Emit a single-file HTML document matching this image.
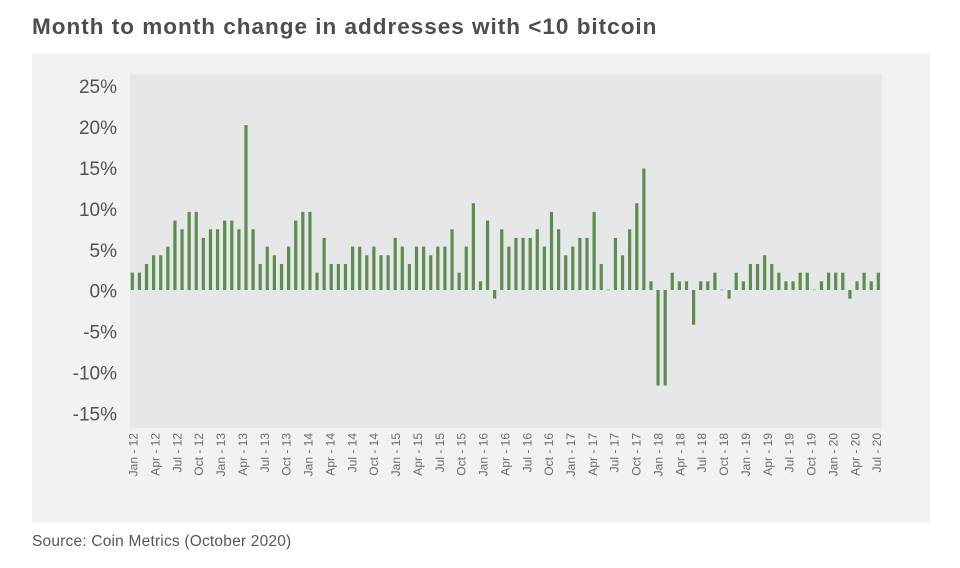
<!DOCTYPE html>
<html><head><meta charset="utf-8"><style>
html,body{margin:0;padding:0;background:#fff;}
body{width:960px;height:568px;overflow:hidden;position:relative;font-family:"Liberation Sans",sans-serif;}
svg{position:absolute;left:0;top:0;}
.yl{font-size:19px;fill:#505254;text-anchor:end;}
.xl{font-size:12px;fill:#6a6c6e;text-anchor:end;}
.b rect{fill:#5c8c4e;}
</style></head><body>
<svg width="960" height="568" viewBox="0 0 960 568" xmlns="http://www.w3.org/2000/svg" font-family="Liberation Sans, sans-serif">
<text x="32" y="34" font-size="22.5" font-weight="bold" fill="#4b4d52" letter-spacing="1">Month to month change in addresses with &lt;10 bitcoin</text>
<rect x="32" y="53" width="898" height="470" fill="#f2f2f2"/>
<rect x="130" y="74" width="752" height="354" fill="#e6e7e9"/>
<g class="yl">
<text x="117" y="93">25%</text>
<text x="117" y="134">20%</text>
<text x="117" y="175">15%</text>
<text x="117" y="216">10%</text>
<text x="117" y="257">5%</text>
<text x="117" y="297.5">0%</text>
<text x="117" y="338.5">-5%</text>
<text x="117" y="379.5">-10%</text>
<text x="117" y="420.5">-15%</text>
</g>
<g class="b">
<rect x="130.70" y="272.64" width="3.2" height="17.36"/>
<rect x="137.81" y="272.64" width="3.2" height="17.36"/>
<rect x="144.91" y="263.96" width="3.2" height="26.04"/>
<rect x="152.02" y="255.28" width="3.2" height="34.72"/>
<rect x="159.12" y="255.28" width="3.2" height="34.72"/>
<rect x="166.23" y="246.6" width="3.2" height="43.4"/>
<rect x="173.33" y="220.56" width="3.2" height="69.44"/>
<rect x="180.44" y="229.24" width="3.2" height="60.76"/>
<rect x="187.54" y="211.88" width="3.2" height="78.12"/>
<rect x="194.65" y="211.88" width="3.2" height="78.12"/>
<rect x="201.75" y="237.92" width="3.2" height="52.08"/>
<rect x="208.86" y="229.24" width="3.2" height="60.76"/>
<rect x="215.96" y="229.24" width="3.2" height="60.76"/>
<rect x="223.07" y="220.56" width="3.2" height="69.44"/>
<rect x="230.17" y="220.56" width="3.2" height="69.44"/>
<rect x="237.28" y="229.24" width="3.2" height="60.76"/>
<rect x="244.38" y="125.08" width="3.2" height="164.92"/>
<rect x="251.49" y="229.24" width="3.2" height="60.76"/>
<rect x="258.59" y="263.96" width="3.2" height="26.04"/>
<rect x="265.70" y="246.6" width="3.2" height="43.4"/>
<rect x="272.80" y="255.28" width="3.2" height="34.72"/>
<rect x="279.91" y="263.96" width="3.2" height="26.04"/>
<rect x="287.01" y="246.6" width="3.2" height="43.4"/>
<rect x="294.12" y="220.56" width="3.2" height="69.44"/>
<rect x="301.22" y="211.88" width="3.2" height="78.12"/>
<rect x="308.33" y="211.88" width="3.2" height="78.12"/>
<rect x="315.43" y="272.64" width="3.2" height="17.36"/>
<rect x="322.54" y="237.92" width="3.2" height="52.08"/>
<rect x="329.64" y="263.96" width="3.2" height="26.04"/>
<rect x="336.75" y="263.96" width="3.2" height="26.04"/>
<rect x="343.85" y="263.96" width="3.2" height="26.04"/>
<rect x="350.96" y="246.6" width="3.2" height="43.4"/>
<rect x="358.06" y="246.6" width="3.2" height="43.4"/>
<rect x="365.17" y="255.28" width="3.2" height="34.72"/>
<rect x="372.27" y="246.6" width="3.2" height="43.4"/>
<rect x="379.38" y="255.28" width="3.2" height="34.72"/>
<rect x="386.48" y="255.28" width="3.2" height="34.72"/>
<rect x="393.59" y="237.92" width="3.2" height="52.08"/>
<rect x="400.69" y="246.6" width="3.2" height="43.4"/>
<rect x="407.80" y="263.96" width="3.2" height="26.04"/>
<rect x="414.90" y="246.6" width="3.2" height="43.4"/>
<rect x="422.01" y="246.6" width="3.2" height="43.4"/>
<rect x="429.11" y="255.28" width="3.2" height="34.72"/>
<rect x="436.22" y="246.6" width="3.2" height="43.4"/>
<rect x="443.32" y="246.6" width="3.2" height="43.4"/>
<rect x="450.43" y="229.24" width="3.2" height="60.76"/>
<rect x="457.53" y="272.64" width="3.2" height="17.36"/>
<rect x="464.64" y="246.6" width="3.2" height="43.4"/>
<rect x="471.74" y="203.2" width="3.2" height="86.8"/>
<rect x="478.85" y="281.32" width="3.2" height="8.68"/>
<rect x="485.95" y="220.56" width="3.2" height="69.44"/>
<rect x="493.06" y="290" width="3.2" height="8.68"/>
<rect x="500.16" y="229.24" width="3.2" height="60.76"/>
<rect x="507.27" y="246.6" width="3.2" height="43.4"/>
<rect x="514.37" y="237.92" width="3.2" height="52.08"/>
<rect x="521.48" y="237.92" width="3.2" height="52.08"/>
<rect x="528.58" y="237.92" width="3.2" height="52.08"/>
<rect x="535.69" y="229.24" width="3.2" height="60.76"/>
<rect x="542.79" y="246.6" width="3.2" height="43.4"/>
<rect x="549.90" y="211.88" width="3.2" height="78.12"/>
<rect x="557.00" y="229.24" width="3.2" height="60.76"/>
<rect x="564.11" y="255.28" width="3.2" height="34.72"/>
<rect x="571.21" y="246.6" width="3.2" height="43.4"/>
<rect x="578.32" y="237.92" width="3.2" height="52.08"/>
<rect x="585.42" y="237.92" width="3.2" height="52.08"/>
<rect x="592.53" y="211.88" width="3.2" height="78.12"/>
<rect x="599.63" y="263.96" width="3.2" height="26.04"/>
<rect x="606.74" y="289.4" width="3.2" height="1" style="fill:#9aa89a"/>
<rect x="613.84" y="237.92" width="3.2" height="52.08"/>
<rect x="620.95" y="255.28" width="3.2" height="34.72"/>
<rect x="628.05" y="229.24" width="3.2" height="60.76"/>
<rect x="635.16" y="203.2" width="3.2" height="86.8"/>
<rect x="642.26" y="168.48" width="3.2" height="121.52"/>
<rect x="649.37" y="281.32" width="3.2" height="8.68"/>
<rect x="656.47" y="290" width="3.2" height="95.48"/>
<rect x="663.58" y="290" width="3.2" height="95.48"/>
<rect x="670.68" y="272.64" width="3.2" height="17.36"/>
<rect x="677.79" y="281.32" width="3.2" height="8.68"/>
<rect x="684.89" y="281.32" width="3.2" height="8.68"/>
<rect x="692.00" y="290" width="3.2" height="34.72"/>
<rect x="699.10" y="281.32" width="3.2" height="8.68"/>
<rect x="706.21" y="281.32" width="3.2" height="8.68"/>
<rect x="713.31" y="272.64" width="3.2" height="17.36"/>
<rect x="720.42" y="289.4" width="3.2" height="1" style="fill:#9aa89a"/>
<rect x="727.52" y="290" width="3.2" height="8.68"/>
<rect x="734.63" y="272.64" width="3.2" height="17.36"/>
<rect x="741.73" y="281.32" width="3.2" height="8.68"/>
<rect x="748.84" y="263.96" width="3.2" height="26.04"/>
<rect x="755.94" y="263.96" width="3.2" height="26.04"/>
<rect x="763.05" y="255.28" width="3.2" height="34.72"/>
<rect x="770.15" y="263.96" width="3.2" height="26.04"/>
<rect x="777.26" y="272.64" width="3.2" height="17.36"/>
<rect x="784.36" y="281.32" width="3.2" height="8.68"/>
<rect x="791.47" y="281.32" width="3.2" height="8.68"/>
<rect x="798.57" y="272.64" width="3.2" height="17.36"/>
<rect x="805.68" y="272.64" width="3.2" height="17.36"/>
<rect x="812.78" y="289.4" width="3.2" height="1" style="fill:#9aa89a"/>
<rect x="819.89" y="281.32" width="3.2" height="8.68"/>
<rect x="826.99" y="272.64" width="3.2" height="17.36"/>
<rect x="834.10" y="272.64" width="3.2" height="17.36"/>
<rect x="841.20" y="272.64" width="3.2" height="17.36"/>
<rect x="848.31" y="290" width="3.2" height="8.68"/>
<rect x="855.41" y="281.32" width="3.2" height="8.68"/>
<rect x="862.52" y="272.64" width="3.2" height="17.36"/>
<rect x="869.62" y="281.32" width="3.2" height="8.68"/>
<rect x="876.73" y="272.64" width="3.2" height="17.36"/>
</g>
<g class="xl">
<text transform="translate(137.6,433) rotate(-90)">Jan - 12</text>
<text transform="translate(159.5,433) rotate(-90)">Apr - 12</text>
<text transform="translate(181.3,433) rotate(-90)">Jul - 12</text>
<text transform="translate(203.2,433) rotate(-90)">Oct - 12</text>
<text transform="translate(225.1,433) rotate(-90)">Jan - 13</text>
<text transform="translate(247.0,433) rotate(-90)">Apr - 13</text>
<text transform="translate(268.8,433) rotate(-90)">Jul - 13</text>
<text transform="translate(290.7,433) rotate(-90)">Oct - 13</text>
<text transform="translate(312.6,433) rotate(-90)">Jan - 14</text>
<text transform="translate(334.4,433) rotate(-90)">Apr - 14</text>
<text transform="translate(356.3,433) rotate(-90)">Jul - 14</text>
<text transform="translate(378.2,433) rotate(-90)">Oct - 14</text>
<text transform="translate(400.0,433) rotate(-90)">Jan - 15</text>
<text transform="translate(421.9,433) rotate(-90)">Apr - 15</text>
<text transform="translate(443.8,433) rotate(-90)">Jul - 15</text>
<text transform="translate(465.7,433) rotate(-90)">Oct - 15</text>
<text transform="translate(487.5,433) rotate(-90)">Jan - 16</text>
<text transform="translate(509.4,433) rotate(-90)">Apr - 16</text>
<text transform="translate(531.3,433) rotate(-90)">Jul - 16</text>
<text transform="translate(553.1,433) rotate(-90)">Oct - 16</text>
<text transform="translate(575.0,433) rotate(-90)">Jan - 17</text>
<text transform="translate(596.9,433) rotate(-90)">Apr - 17</text>
<text transform="translate(618.7,433) rotate(-90)">Jul - 17</text>
<text transform="translate(640.6,433) rotate(-90)">Oct - 17</text>
<text transform="translate(662.5,433) rotate(-90)">Jan - 18</text>
<text transform="translate(684.4,433) rotate(-90)">Apr - 18</text>
<text transform="translate(706.2,433) rotate(-90)">Jul - 18</text>
<text transform="translate(728.1,433) rotate(-90)">Oct - 18</text>
<text transform="translate(750.0,433) rotate(-90)">Jan - 19</text>
<text transform="translate(771.8,433) rotate(-90)">Apr - 19</text>
<text transform="translate(793.7,433) rotate(-90)">Jul - 19</text>
<text transform="translate(815.6,433) rotate(-90)">Oct - 19</text>
<text transform="translate(837.5,433) rotate(-90)">Jan - 20</text>
<text transform="translate(859.3,433) rotate(-90)">Apr - 20</text>
<text transform="translate(881.2,433) rotate(-90)">Jul - 20</text>
</g>
<text x="32" y="546" font-size="15.5" fill="#55575a" letter-spacing="0.2">Source: Coin Metrics (October 2020)</text>
</svg>
</body></html>
